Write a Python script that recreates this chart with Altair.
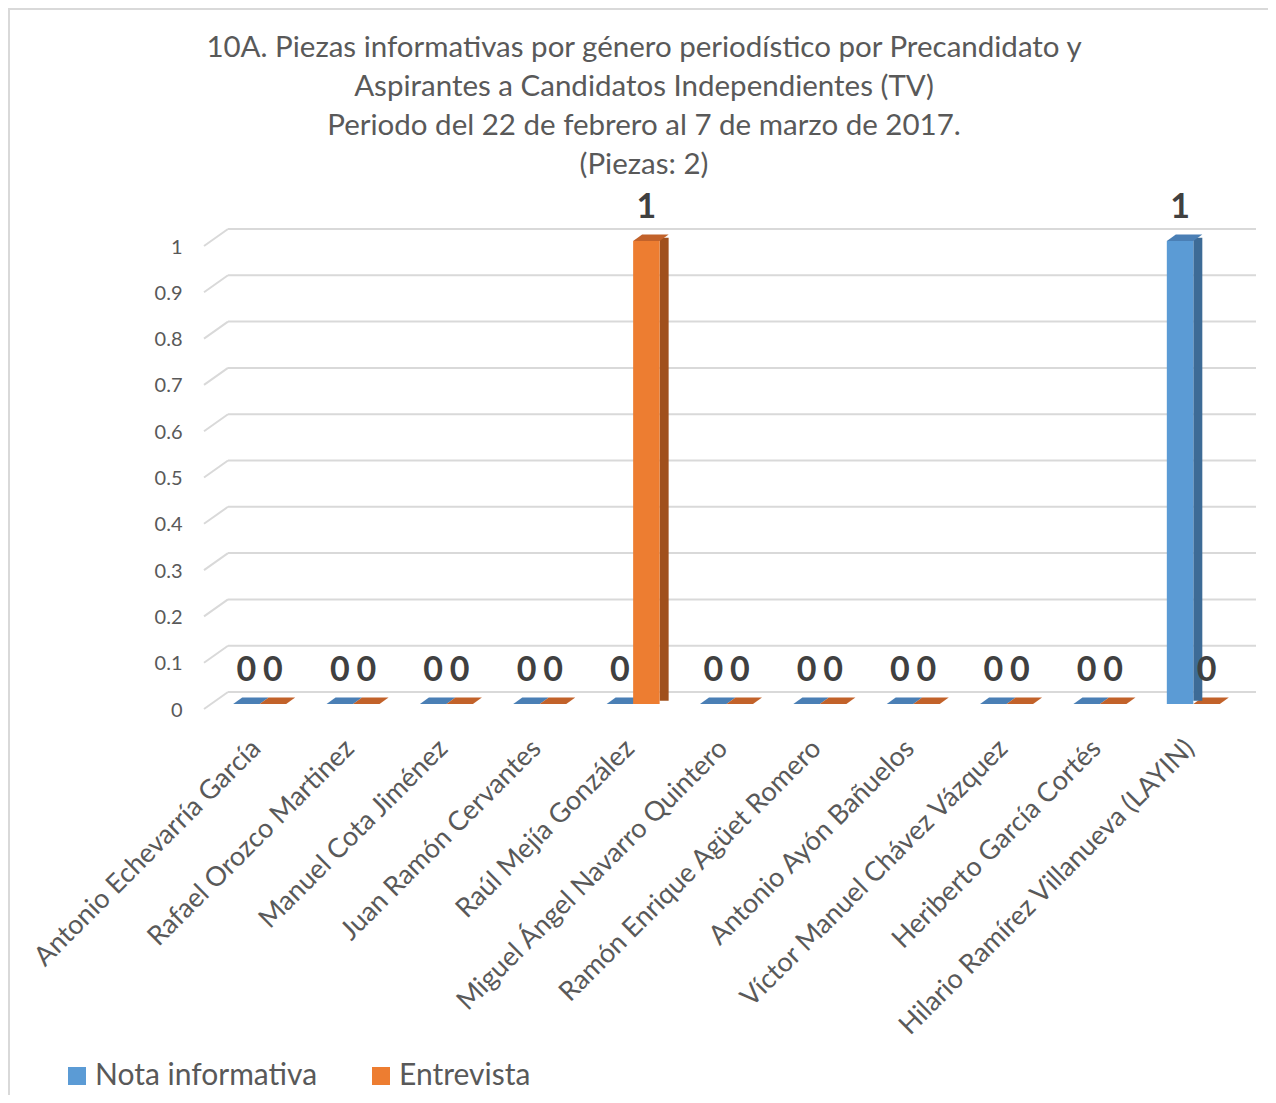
import altair as alt
import pandas as pd

candidatos = [
    "Antonio Echevarría García",
    "Rafael Orozco Martinez",
    "Manuel Cota Jiménez",
    "Juan Ramón Cervantes",
    "Raúl Mejía González",
    "Miguel Ángel Navarro Quintero",
    "Ramón Enrique Agüet Romero",
    "Antonio Ayón Bañuelos",
    "Víctor Manuel Chávez Vázquez",
    "Heriberto García Cortés",
    "Hilario Ramírez Villanueva (LAYIN)",
]
nota_informativa = [0, 0, 0, 0, 0, 0, 0, 0, 0, 0, 1]
entrevista = [0, 0, 0, 0, 1, 0, 0, 0, 0, 0, 0]
series = ["Nota informativa", "Entrevista"]
y_ticks = [0, 0.1, 0.2, 0.3, 0.4, 0.5, 0.6, 0.7, 0.8, 0.9, 1]
title_lines = [
    "10A. Piezas informativas por género periodístico por Precandidato y",
    "Aspirantes a Candidatos Independientes (TV)",
    "Periodo del 22 de febrero al 7 de marzo de 2017.",
    "(Piezas: 2)",
]

FONT = "Lato"
TXT = "#595959"
GRID = "#d9d9d9"
front_colors = ["#5b9bd5", "#ed7d31"]
side_colors = ["#3d6b96", "#a0501d"]
top_colors = ["#4a7fb5", "#c2622a"]
offsets = [-13.25, 13.25]

W, H = 1027, 463

frames = []
for name, vals in zip(series, [nota_informativa, entrevista]):
    frames.append(pd.DataFrame({"candidato": candidatos, "valor": vals, "serie": name}))
ticks_df = pd.DataFrame({"valor": y_ticks})

x_enc = alt.X(
    "candidato:N",
    sort=candidatos,
    scale=alt.Scale(domain=candidatos, paddingInner=0, paddingOuter=0),
    axis=alt.Axis(
        title=None, domain=False, ticks=False, labelAngle=-45, labelAlign="right",
        labelBaseline="middle", labelFontSize=27, labelFont=FONT, labelColor=TXT,
        labelPadding=40, labelOffset=-3, labelLimit=800,
    ),
)
y_scale = alt.Scale(domain=[0, 1], nice=False, zero=True)
y_axis = alt.Axis(
    title=None, values=y_ticks, format="~g", domain=False, ticks=False, tickSize=0,
    grid=False, labelFontSize=20, labelFont=FONT, labelColor=TXT, labelPadding=31,
    labelOffset=6, labelFlush=False, labelOverlap=False,
)


def y_enc():
    return alt.Y("valor:Q", scale=y_scale, axis=y_axis)


# chart border
border = alt.Chart(pd.DataFrame({"k": [0]})).mark_rect(
    fillOpacity=0, stroke=GRID, strokeWidth=2
).encode(x=alt.value(-204), x2=alt.value(1200), y=alt.value(-232), y2=alt.value(1000))

# back wall gridlines
grid_back = alt.Chart(ticks_df).mark_rule(color=GRID, strokeWidth=2, yOffset=-12).encode(
    y=y_enc(), x=alt.value(15), x2=alt.value(1043)
)
# side wall slants
grid_side = alt.Chart(ticks_df).mark_rule(
    color=GRID, strokeWidth=2, yOffset=5, y2Offset=-12
).encode(y=y_enc(), y2="valor:Q", x=alt.value(-9), x2=alt.value(15))

# parallelogram top face: 26.5 wide, 9 skew, 6.5 high -> half extent 17.75
top_shape = "M -1 0.1831 L 0.493 0.1831 L 1 -0.1831 L -0.493 -0.1831 Z"
top_size = 35.5 ** 2

color_scale = alt.Scale(domain=series, range=front_colors)
legend = alt.Legend(
    orient="none", legendX=-151, legendY=820, direction="horizontal", title=None,
    symbolType="square", symbolSize=324, symbolStrokeWidth=0, symbolOpacity=1,
    labelFontSize=30, labelFont=FONT, labelColor=TXT, labelOffset=3, labelLimit=600,
    columnPadding=48, padding=0,
)

tiles, sides, fronts, tops, labels = [], [], [], [], []
for i, df in enumerate(frames):
    off = offsets[i]
    base = alt.Chart(df)
    tiles.append(
        base.transform_filter("datum.valor == 0").mark_point(
            shape=top_shape, size=top_size, filled=True, strokeWidth=0, opacity=1,
            xOffset=off + 4.5, yOffset=-3.25,
        ).encode(x=x_enc, y=y_enc(), color=alt.value(top_colors[i]))
    )
    sides.append(
        base.transform_filter("datum.valor > 0").mark_bar(
            width=9, xOffset=off + 13.25 + 4.5, yOffset=-3.25, y2Offset=-3.25
        ).encode(x=x_enc, y=y_enc(), color=alt.value(side_colors[i]))
    )
    fronts.append(
        base.mark_bar(width=26.5, xOffset=off, opacity=1).encode(
            x=x_enc, y=y_enc(),
            color=alt.Color("serie:N", scale=color_scale, legend=legend),
        )
    )
    tops.append(
        base.transform_filter("datum.valor > 0").mark_point(
            shape=top_shape, size=top_size, filled=True, strokeWidth=0, opacity=1,
            xOffset=off + 4.5, yOffset=-3.25,
        ).encode(x=x_enc, y=y_enc(), color=alt.value(top_colors[i]))
    )
    labels.append(
        base.mark_text(
            dx=off, dy=-33.5, fontSize=34, fontWeight="bold", font=FONT, color="#404040",
            baseline="middle", align="center",
        ).encode(x=x_enc, y=y_enc(), text=alt.Text("valor:Q", format="d"))
    )

chart = alt.layer(
    border, grid_back, grid_side, *tiles, *sides, *fronts, *tops, *labels
).properties(
    width=W, height=H,
    padding={"left": 205, "top": 233, "right": 28, "bottom": 391},
    autosize=alt.AutoSizeParams(type="none"),
    title=alt.Title(
        text=title_lines, font=FONT, fontSize=29.5, fontWeight="normal", color=TXT,
        anchor="middle", frame="group", dx=-82.5, lineHeight=39, baseline="bottom",
        offset=-201,
    ),
).configure(background="white").configure_view(strokeWidth=0, strokeOpacity=0)

chart.save("out.html", embed_options={"renderer": "svg", "actions": False})
